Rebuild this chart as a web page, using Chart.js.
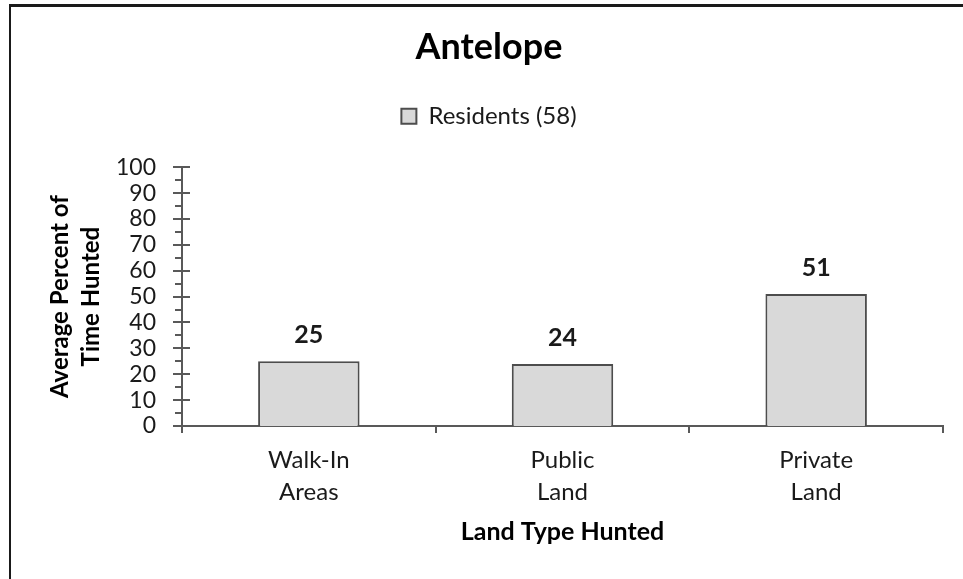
<!DOCTYPE html>
<html>
<head>
<meta charset="utf-8">
<script src="https://cdn.jsdelivr.net/npm/chart.js@4"></script>
<style>
  html, body { margin: 0; padding: 0; background: #fff; }
  #wrap { position: relative; width: 963px; height: 579px; overflow: hidden; }
  #frame {
    position: absolute; left: 9px; top: 4px; width: 1000px; height: 700px;
    border-left: 2px solid #1a1a1a; border-top: 3px solid #1a1a1a;
    pointer-events: none;
  }
  canvas { position: absolute; left: 0; top: 0; }
</style>
</head>
<body>
<div id="wrap">
  <canvas id="canvas" width="963" height="579"></canvas>
  <div id="frame"></div>
</div>
<script>
// chart data
const categories = [["Walk-In", "Areas"], ["Public", "Land"], ["Private", "Land"]];
const seriesName = "Residents (58)";
const residentValues = [25, 24, 51];
const yMin = 0;
const yMax = 100;
const yStep = 10;
const yMinorStep = 5;

const FONT = "Lato, 'Open Sans', sans-serif";
const AXIS_COLOR = "#595959";

// push the plot area down below the legend
const legendSpacer = {
  id: "legendSpacer",
  beforeInit(chart) {
    const fit = chart.legend.fit;
    chart.legend.fit = function () {
      fit.bind(chart.legend)();
      this.height += 29;
    };
  },
};

// major ticks cross the y axis, minor ticks sit on the outside
const yTickMarks = {
  id: "yTickMarks",
  afterDraw(chart) {
    const y = chart.scales.y;
    const ctx = chart.ctx;
    const x0 = y.right;
    ctx.save();
    ctx.strokeStyle = AXIS_COLOR;
    ctx.lineWidth = 2;
    for (let v = yMin; v <= yMax; v += yMinorStep) {
      const py = Math.round(y.getPixelForValue(v));
      const major = v % yStep === 0;
      ctx.beginPath();
      ctx.moveTo(x0 - (major ? 9 : 7), py);
      ctx.lineTo(x0 + (major ? 8 : 1), py);
      ctx.stroke();
    }
    ctx.restore();
  },
};

// bold value labels over the bars
const valueLabels = {
  id: "valueLabels",
  afterDatasetsDraw(chart) {
    const ctx = chart.ctx;
    const meta = chart.getDatasetMeta(0);
    ctx.save();
    ctx.font = "bold 25px " + FONT;
    ctx.fillStyle = "#1a1a1a";
    ctx.textAlign = "center";
    ctx.textBaseline = "middle";
    meta.data.forEach((bar, i) => {
      ctx.fillText(String(residentValues[i]), bar.x, bar.y - 26);
    });
    ctx.restore();
  },
};

const ctx = document.getElementById("canvas").getContext("2d");

new Chart(ctx, {
  type: "bar",
  data: {
    labels: categories,
    datasets: [
      {
        label: seriesName,
        data: residentValues,
        backgroundColor: "#d9d9d9",
        borderColor: "#4d4d4d",
        borderWidth: 2,
        categoryPercentage: 1,
        barPercentage: 0.4,
      },
    ],
  },
  options: {
    responsive: false,
    animation: false,
    layout: { padding: { left: 35, right: 20, top: 0, bottom: 0 } },
    plugins: {
      title: {
        display: true,
        text: "Antelope",
        color: "#000",
        font: { family: FONT, size: 36, weight: "bold", lineHeight: 1.2 },
        padding: { top: 26, bottom: 25 },
      },
      legend: {
        display: true,
        labels: {
          color: "#1a1a1a",
          font: { family: FONT, size: 24 },
          boxWidth: 15,
          boxHeight: 15,
          padding: 10,
        },
      },
      tooltip: { enabled: false },
    },
    scales: {
      x: {
        afterFit(scale) {
          scale.height = 153;
        },
        grid: {
          display: true,
          drawOnChartArea: false,
          drawTicks: true,
          tickLength: 7,
          offset: true,
          color: AXIS_COLOR,
          lineWidth: 2,
        },
        border: { display: true, color: AXIS_COLOR, width: 2 },
        ticks: {
          color: "#1a1a1a",
          font: { family: FONT, size: 24, lineHeight: 1.35 },
          padding: 11,
          maxRotation: 0,
        },
        title: {
          display: true,
          text: "Land Type Hunted",
          color: "#000",
          font: { family: FONT, size: 25, weight: "bold", lineHeight: 1.2 },
          padding: { top: 0, bottom: 32 },
        },
      },
      y: {
        min: yMin,
        max: yMax,
        afterFit(scale) {
          scale.width = 147;
        },
        grid: { display: false, drawTicks: false },
        border: { display: true, color: AXIS_COLOR, width: 2 },
        ticks: {
          stepSize: yStep,
          autoSkip: false,
          color: "#1a1a1a",
          font: { family: FONT, size: 23 },
          padding: 26,
        },
        title: {
          display: true,
          text: ["Average Percent of", "Time Hunted"],
          color: "#000",
          font: { family: FONT, size: 24, weight: "bold", lineHeight: 1.29 },
          padding: { top: 10, bottom: 0 },
        },
      },
    },
  },
  plugins: [legendSpacer, yTickMarks, valueLabels],
});
</script>
</body>
</html>
